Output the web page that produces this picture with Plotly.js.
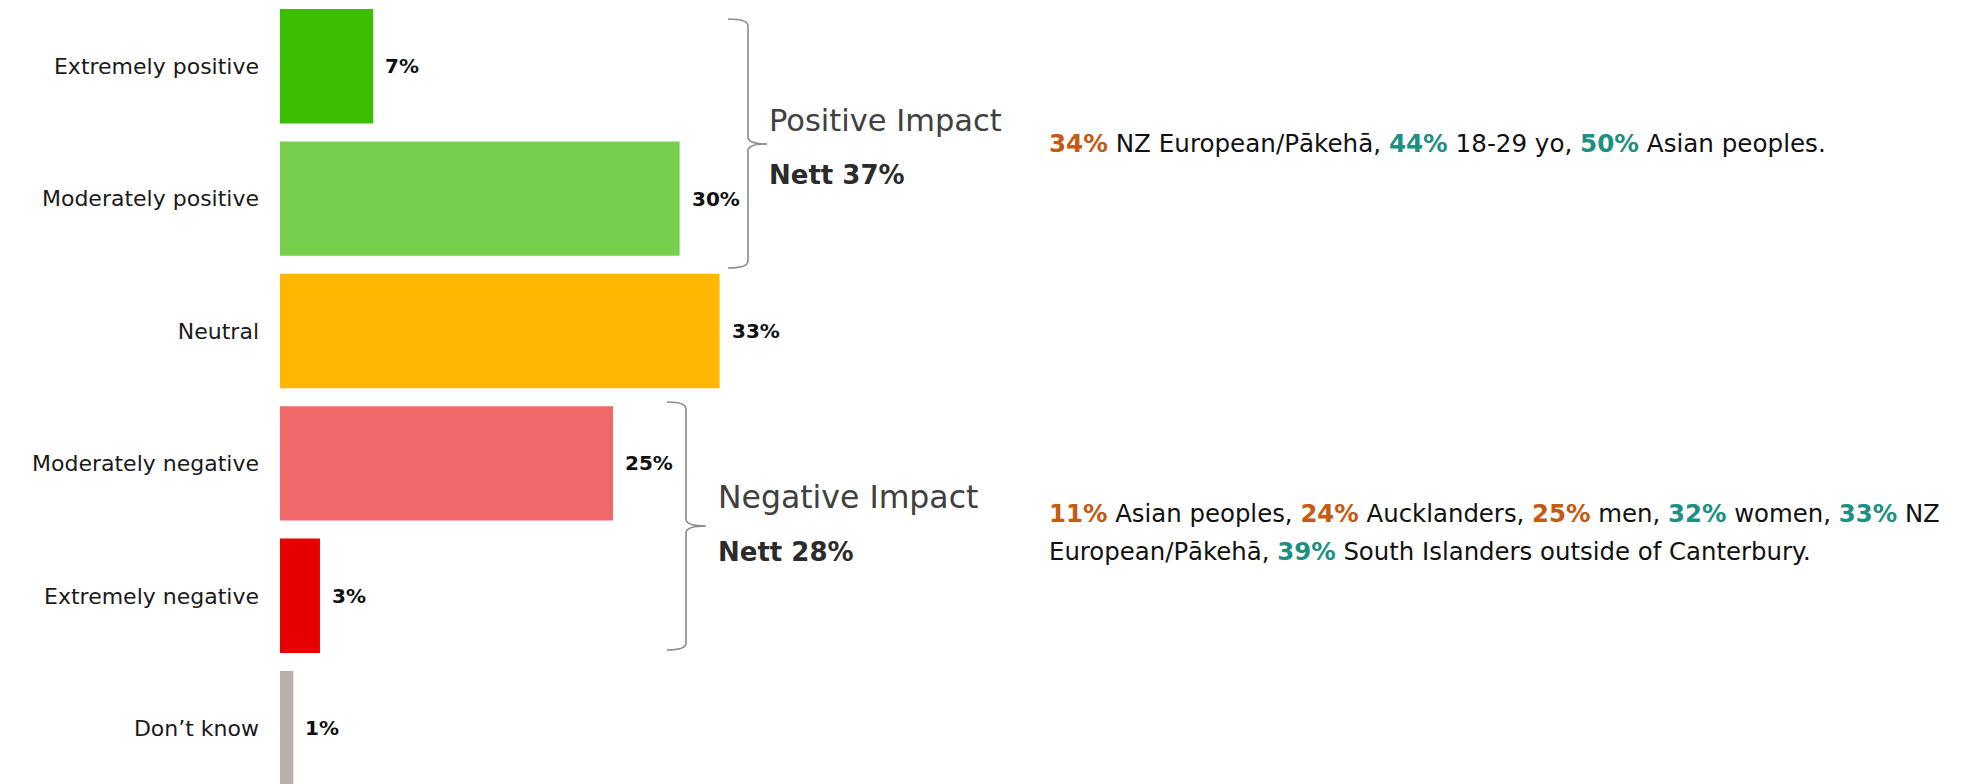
<!DOCTYPE html>
<html>
<head>
<meta charset="utf-8">
<script src="https://cdn.plot.ly/plotly-3.0.1.min.js"></script>
<style>html,body{margin:0;padding:0;background:#fff;}#chart{width:1967px;height:784px;}</style>
</head>
<body>
<div id="chart"></div>
<script>
// ---- data ----
const categories = ["Extremely positive", "Moderately positive", "Neutral", "Moderately negative", "Extremely negative", "Don’t know"];
const values = [7, 30, 33, 25, 3, 1];
const barColors = ["#3CBD00", "#76D04E", "#FFB700", "#F06868", "#E60000", "#B9B0AC"];
const valueLabels = values.map(v => v + "%");

const positiveGroup = {title: "Positive Impact", nett: "Nett 37%"};
const negativeGroup = {title: "Negative Impact", nett: "Nett 28%"};

const ORANGE = "#C55A11", TEAL = "#1D9084";
const positiveNote = [[ORANGE, "34%", " NZ European/Pākehā, "], [TEAL, "44%", " 18-29 yo, "], [TEAL, "50%", " Asian peoples."]];
const negativeNoteLine1 = [[ORANGE, "11%", " Asian peoples, "], [ORANGE, "24%", " Aucklanders, "], [ORANGE, "25%", " men, "], [TEAL, "32%", " women, "], [TEAL, "33%", " NZ"]];
const negativeNoteLine2 = [[null, "", "European/Pākehā, "], [TEAL, "39%", " South Islanders outside of Canterbury."]];

// ---- layout helpers ----
const W = 1967, H = 784, L = 280;
const FONT = "DejaVu Sans, Open Sans, sans-serif";
const px = x => (x - L) / (W - L);
const py = y => 1 - y / H;
const rich = parts => parts.map(([c, b, t]) => (b ? `<b><span style="color:${c}">${b}</span></b>` : "") + t).join("");

function brace(hl, vx, tip, top, mid, bot, r) {
  const pts = (x, y) => `${px(x)},${py(y)}`;
  return `M ${pts(hl, top)} Q ${pts(vx, top)} ${pts(vx, top + r)} L ${pts(vx, mid - r)} Q ${pts(vx, mid)} ${pts(tip, mid)} Q ${pts(vx, mid)} ${pts(vx, mid + r)} L ${pts(vx, bot - r)} Q ${pts(vx, bot)} ${pts(hl, bot)}`;
}

const trace = {
  type: "bar",
  orientation: "h",
  y: categories,
  x: values,
  marker: {color: barColors},
  hoverinfo: "none",
  cliponaxis: false
};

const annotations = values.map((v, i) => ({
  xref: "x", yref: "y", x: v, y: categories[i],
  text: `<b>${valueLabels[i]}</b>`, showarrow: false,
  xanchor: "left", yanchor: "middle", xshift: 10,
  font: {family: FONT, size: 20, color: "#111"}
}));

function textAnn(x, y, text, size, color, bold) {
  return {xref: "paper", yref: "paper", x: px(x), y: py(y), xanchor: "left", yanchor: "middle",
    text: bold ? `<b>${text}</b>` : text, showarrow: false, align: "left",
    font: {family: FONT, size: size, color: color}};
}

annotations.push(textAnn(767, 120, positiveGroup.title, 30.5, "#404040", false));
annotations.push(textAnn(767, 175, positiveGroup.nett, 26, "#2b2b2b", true));
annotations.push(textAnn(716, 497, negativeGroup.title, 31.5, "#404040", false));
annotations.push(textAnn(716, 552, negativeGroup.nett, 26, "#2b2b2b", true));
annotations.push(textAnn(1047, 143, rich(positiveNote), 24.6, "#111", false));
annotations.push(textAnn(1047, 513, rich(negativeNoteLine1), 24.4, "#111", false));
annotations.push(textAnn(1047, 551, rich(negativeNoteLine2), 24.4, "#111", false));

const braceLine = {color: "#8A8A8A", width: 1.6};
const shapes = [
  {type: "path", xref: "paper", yref: "paper", path: brace(728, 748, 767, 19, 144, 268, 7), line: braceLine},
  {type: "path", xref: "paper", yref: "paper", path: brace(667, 686, 706, 402, 526, 650, 7), line: braceLine}
];

const pxPerPct = 13.32;
const layout = {
  width: W, height: H,
  margin: {l: L, r: 0, t: 0, b: 0, pad: 0},
  paper_bgcolor: "#fff", plot_bgcolor: "#fff",
  showlegend: false,
  bargap: 0.136,
  xaxis: {range: [0, (W - L) / pxPerPct], visible: false, fixedrange: true},
  yaxis: {type: "category", range: [categories.length - 0.5 - (categories.length * 132.4 - H) / 132.4, -0.5],
    showgrid: false, zeroline: false, showline: false, ticks: "", ticklabelstandoff: 20,
    tickfont: {family: FONT, size: 22, color: "#1a1a1a"}, fixedrange: true},
  annotations: annotations,
  shapes: shapes,
  font: {family: FONT}
};

Plotly.newPlot("chart", [trace], layout, {displayModeBar: false, staticPlot: true});
</script>
</body>
</html>
